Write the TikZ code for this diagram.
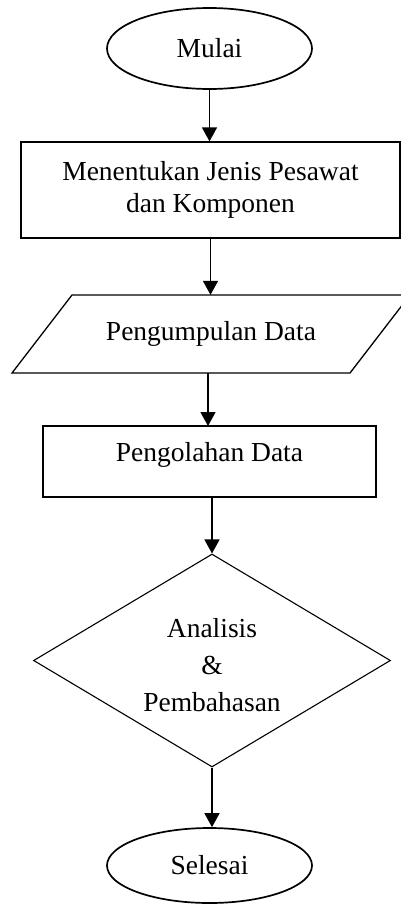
\documentclass[tikz,border=0pt]{standalone}
\usepackage{fontspec}
\setmainfont{Liberation Serif}
\usetikzlibrary{shapes.geometric,arrows.meta}
\begin{document}
\begin{tikzpicture}[x=1pt,y=-1pt,
  txt/.style={font=\fontsize{27.5}{32}\selectfont, align=center, inner sep=0pt},
  term/.style={ellipse, draw, line width=1.7pt, inner sep=0pt, font=\fontsize{27.5}{32}\selectfont},
  box/.style={rectangle, draw, line width=1.3pt, inner sep=0pt, font=\fontsize{27.5}{32}\selectfont, align=center},
  arr/.style={line width=1.6pt, -{Triangle[length=14pt,width=15pt]}}
]
\useasboundingbox (0,0) rectangle (401,905);
\clip (0,0) rectangle (401,905);
% start
\node[term, minimum width=205pt, minimum height=81pt] (mulai) at (209.5,48.5) {Mulai};
% rect 1
\node[box, minimum width=379pt, minimum height=96pt] (jenis) at (210.5,190) {Menentukan Jenis Pesawat\\dan Komponen};
% parallelogram
\draw[line width=1.3pt] (72,295) -- (410,295) -- (350,373) -- (12,373) -- cycle;
\node[txt, minimum width=300pt, minimum height=78pt] (kumpul) at (211,334) {Pengumpulan Data};
% rect 2
\node[box, minimum width=333pt, minimum height=71pt, text height=18pt, text depth=18pt] (olah) at (209.5,461.5) {Pengolahan Data};
% diamond
\node[diamond, draw, line width=1.1pt, inner sep=0pt, minimum width=357pt, minimum height=213pt] (analisis) at (212,660.5) {};
\node[txt, font=\fontsize{27.5}{37}\selectfont] (analisisT) at (212,665) {Analisis\\\&\\Pembahasan};
% end
\node[term, minimum width=205pt, minimum height=75pt] (selesai) at (209.5,865.5) {Selesai};
% connectors
\draw[arr] (mulai.south) -- (mulai.south |- jenis.north);
\draw[arr] (jenis.south) -- (jenis.south |- kumpul.north);
\draw[arr] (208,373) -- (208,426);
\draw[arr] (olah.south -| analisis.north) -- (analisis.north);
\draw[arr] (analisis.south) -- (analisis.south |- selesai.north);
\end{tikzpicture}
\end{document}
